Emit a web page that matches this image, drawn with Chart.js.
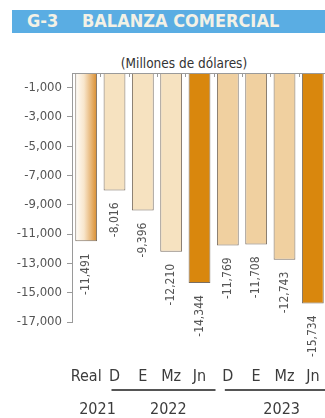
<!DOCTYPE html>
<html>
<head>
<meta charset="utf-8">
<script src="https://cdn.jsdelivr.net/npm/chart.js@4.4.0/dist/chart.umd.min.js"></script>
<style>
  html, body { margin: 0; padding: 0; background: #fff; width: 325px; height: 418px; overflow: hidden; }
  #banner { position: absolute; left: 12px; top: 10px; width: 320px; height: 23px; background: #5aade3; }
  #banner span { position: absolute; top: 0px; line-height: 23px; font: bold 18px "DejaVu Sans Condensed", "DejaVu Sans", sans-serif; color: #f3f1e6; }
  #sub { position: absolute; top: 55px; left: 0; width: 368px; text-align: center; font: 13.5px "DejaVu Sans Condensed", "DejaVu Sans", sans-serif; color: #333; }
  #wrap { position: absolute; left: 0; top: 0; width: 327px; height: 418px; }
</style>
</head>
<body>
<div id="banner"><span style="left:15px">G-3</span><span style="left:70px">BALANZA COMERCIAL</span></div>
<div id="sub">(Millones de dólares)</div>
<div id="wrap"><canvas id="c"></canvas></div>
<script>
// Trade balance, millions of US dollars: actual 2021 and forecasts made in D, E, Mz, Jn
const categories = ['Real', 'D', 'E', 'Mz', 'Jn', 'D', 'E', 'Mz', 'Jn'];
const balance = [-11491, -8016, -9396, -12210, -14344, -11769, -11708, -12743, -15734];
const yTickValues = [-1000, -3000, -5000, -7000, -9000, -11000, -13000, -15000, -17000];
const years = ['2021', '2022', '2023'];
const yearFirst = [0, 1, 5];
const yearLast = [0, 4, 8];

const FONT = '"DejaVu Sans Condensed", "DejaVu Sans", sans-serif';
const BAR_PCT = 0.77;

function barFill(ctx) {
  const i = ctx.dataIndex;
  if (i === 0) {
    const chart = ctx.chart;
    const s = chart.scales.x;
    if (!s || !chart.chartArea) return '#eab56f';
    const c = s.getPixelForValue(0);
    const half = (s.width / categories.length) * BAR_PCT / 2;
    const g = chart.ctx.createLinearGradient(c - half, 0, c + half, 0);
    g.addColorStop(0, '#fffdf9');
    g.addColorStop(0.4, '#f8e6cc');
    g.addColorStop(1, '#d98c2c');
    return g;
  }
  if (i === 4 || i === 8) return '#d9870d';
  if (i <= 3) return '#f6e2c0';
  return '#f0d0a0';
}

// Axis line along zero with short marks between categories
const zeroLine = {
  id: 'zeroLine',
  afterDatasetsDraw(chart) {
    const { ctx, chartArea } = chart;
    const x = chart.scales.x, y = chart.scales.y;
    const y0 = y.getPixelForValue(0);
    const cw = x.width / categories.length;
    ctx.save();
    ctx.strokeStyle = '#9a9a9a';
    ctx.lineWidth = 1;
    ctx.beginPath();
    ctx.moveTo(chartArea.left, y0 + 0.5);
    ctx.lineTo(chartArea.right, y0 + 0.5);
    for (let i = 1; i < categories.length; i++) {
      const bx = Math.round(chartArea.left + cw * i) + 0.5;
      ctx.moveTo(bx, y0);
      ctx.lineTo(bx, y0 + 4);
    }
    ctx.stroke();
    ctx.restore();
  }
};

// Rotated value labels just past the end of each bar
const valueLabels = {
  id: 'valueLabels',
  afterDatasetsDraw(chart) {
    const { ctx } = chart;
    const meta = chart.getDatasetMeta(0);
    ctx.save();
    ctx.font = '12px ' + FONT;
    ctx.fillStyle = '#555';
    meta.data.forEach((bar, i) => {
      ctx.save();
      ctx.translate(bar.x, bar.y + 12);
      ctx.rotate(-Math.PI / 2);
      ctx.textAlign = 'right';
      ctx.textBaseline = 'middle';
      ctx.fillText(balance[i].toLocaleString('en-US'), 0, 0);
      ctx.restore();
    });
    ctx.restore();
  }
};

// Year row under the month labels, with a rule under each multi-month group
const yearRow = {
  id: 'yearRow',
  afterDraw(chart) {
    const { ctx } = chart;
    const x = chart.scales.x;
    const cw = x.width / categories.length;
    const lineY = x.top + 68;
    const textY = x.top + 88;
    ctx.save();
    ctx.font = '16px ' + FONT;
    ctx.fillStyle = '#3c3c3c';
    ctx.textAlign = 'center';
    ctx.textBaseline = 'middle';
    ctx.strokeStyle = '#555';
    ctx.lineWidth = 2;
    years.forEach((yr, k) => {
      const xs = x.getPixelForValue(yearFirst[k]);
      const xe = x.getPixelForValue(yearLast[k]);
      if (yearLast[k] > yearFirst[k]) {
        ctx.beginPath();
        ctx.moveTo(xs - 3, lineY);
        ctx.lineTo(xe + 16, lineY);
        ctx.stroke();
      }
      ctx.fillText(yr, (xs + xe) / 2 + cw * 0.4, textY);
    });
    ctx.restore();
  }
};

new Chart(document.getElementById('c'), {
  type: 'bar',
  data: {
    labels: categories,
    datasets: [{
      data: balance,
      backgroundColor: barFill,
      borderColor: '#7a6e62',
      borderWidth: 1,
      barPercentage: BAR_PCT,
      categoryPercentage: 1
    }]
  },
  options: {
    responsive: true,
    maintainAspectRatio: false,
    animation: false,
    layout: { padding: { top: 73, left: 0, right: 0, bottom: 0 } },
    plugins: { legend: { display: false }, tooltip: { enabled: false }, title: { display: false } },
    scales: {
      x: {
        position: 'bottom',
        grid: { display: false, drawTicks: true, tickLength: 42 },
        border: { display: false },
        ticks: { font: { family: FONT, size: 16 }, color: '#3c3c3c', padding: 3, maxRotation: 0, autoSkip: false },
        afterFit(s) { s.height = 96; s.paddingLeft = 0; s.paddingRight = 0; }
      },
      y: {
        min: -17000,
        max: 0,
        afterBuildTicks(s) { s.ticks = yTickValues.map(v => ({ value: v })); },
        grid: { drawOnChartArea: false, tickLength: 5, color: '#9a9a9a' },
        border: { display: true, color: '#9a9a9a' },
        ticks: {
          font: { family: FONT, size: 13 },
          color: '#555',
          padding: 5,
          callback: v => Number(v).toLocaleString('en-US')
        },
        afterFit(s) { s.width = 72; s.paddingTop = 0; s.paddingBottom = 0; }
      }
    }
  },
  plugins: [zeroLine, valueLabels, yearRow]
});
</script>
</body>
</html>
